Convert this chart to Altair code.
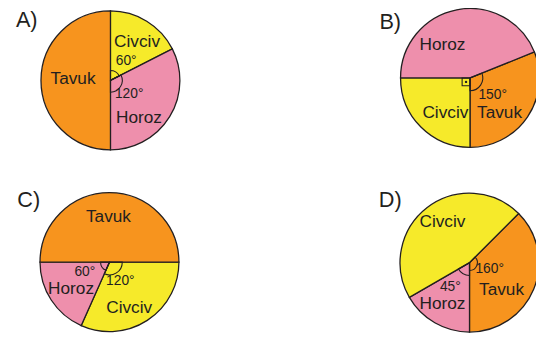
import math
import altair as alt
import pandas as pd

# ---------------- data ----------------
panels = ["A)", "B)", "C)", "D)"]
categories = ["Tavuk", "Civciv", "Horoz"]

# slices listed clockwise, starting at start_angle (degrees from 12 o'clock)
slice_order = {
    "A)": ["Civciv", "Horoz", "Tavuk"],
    "B)": ["Tavuk", "Civciv", "Horoz"],
    "C)": ["Civciv", "Horoz", "Tavuk"],
    "D)": ["Tavuk", "Horoz", "Civciv"],
}
# drawn sizes of the slices (degrees)
slice_degrees = {
    "A)": [63, 117, 180],
    "B)": [112, 90, 158],
    "C)": [114, 66, 180],
    "D)": [135, 60, 165],
}
start_angle = {"A)": 0, "B)": 68, "C)": 90, "D)": 45}

# angle labels written inside each pie, and the slice they belong to
angle_labels = {
    "A)": [("Civciv", "60°"), ("Horoz", "120°")],
    "B)": [("Tavuk", "150°")],
    "C)": [("Horoz", "60°"), ("Civciv", "120°")],
    "D)": [("Horoz", "45°"), ("Tavuk", "160°")],
}
right_angle_panel = "B)"

# ---------------- layout / style ----------------
OFF = 8  # page margin
INK = "#231F20"
FONT = "Liberation Sans"
colors = {"Tavuk": "#F7941E", "Civciv": "#F6EA2A", "Horoz": "#EE8FAC"}
R = 70.5
centers = {"A)": (112, 79), "B)": (477, 76.5), "C)": (111, 263.5), "D)": (476.5, 264)}
letter_pos = {"A)": (27, 25), "B)": (396, 27), "C)": (29, 207), "D)": (396, 208)}
name_pos = {
    "A)": {"Tavuk": (74, 83), "Civciv": (139, 45), "Horoz": (141, 122)},
    "B)": {"Horoz": (449, 48), "Civciv": (452, 117), "Tavuk": (507, 117)},
    "C)": {"Tavuk": (110, 223), "Horoz": (72, 296), "Civciv": (131, 315)},
    "D)": {"Civciv": (449, 228), "Tavuk": (509, 297), "Horoz": (449, 311)},
}
angle_pos = {
    "A)": [(128, 63), (131, 97)],
    "B)": [(500, 98)],
    "C)": [(86, 278), (122, 287)],
    "D)": [(457, 293), (497, 275)],
}
marker_radius = {
    "A)": [10, 12],
    "B)": [13],
    "C)": [9, 13],
    "D)": [13, 8],
}

color_scale = alt.Scale(domain=categories, range=[colors[c] for c in categories])


def slices_df(p):
    rows = []
    a = start_angle[p]
    for cat, deg in zip(slice_order[p], slice_degrees[p]):
        rows.append({"panel": p, "cat": cat,
                     "t0": math.radians(a), "t1": math.radians(a + deg)})
        a += deg
    return pd.DataFrame(rows)


def px(x):
    return alt.value(x - OFF)


layers = []
for p in panels:
    cx, cy = centers[p]
    df = slices_df(p)
    layers.append(
        alt.Chart(df).mark_arc(radius=R, stroke=INK, strokeWidth=1.3).encode(
            theta=alt.Theta("t0:Q", scale=None),
            theta2="t1:Q",
            color=alt.Color("cat:N", scale=color_scale, legend=None),
            x=px(cx), y=px(cy),
        )
    )
    # angle arc markers
    for (cat, lab), r in zip(angle_labels[p], marker_radius[p]):
        sub = df[df["cat"] == cat]
        layers.append(
            alt.Chart(sub).mark_arc(radius=r, filled=False, stroke=INK, strokeWidth=1.1).encode(
                theta=alt.Theta("t0:Q", scale=None), theta2="t1:Q",
                x=px(cx), y=px(cy),
            )
        )
    # letter
    lx, ly = letter_pos[p]
    layers.append(
        alt.Chart(pd.DataFrame({"t": [p]})).mark_text(
            font=FONT, fontSize=22, color=INK, baseline="alphabetic", align="center"
        ).encode(text="t:N", x=px(lx), y=px(ly))
    )
    # category names
    for cat in slice_order[p]:
        nx, ny = name_pos[p][cat]
        layers.append(
            alt.Chart(pd.DataFrame({"t": [cat]})).mark_text(
                font=FONT, fontSize=17.5, color=INK, baseline="alphabetic", align="center"
            ).encode(text="t:N", x=px(nx), y=px(ny))
        )
    # angle labels
    for (cat, lab), (ax, ay) in zip(angle_labels[p], angle_pos[p]):
        layers.append(
            alt.Chart(pd.DataFrame({"t": [lab]})).mark_text(
                font=FONT, fontSize=14, color=INK, baseline="alphabetic", align="center"
            ).encode(text="t:N", x=px(ax), y=px(ay))
        )

# right-angle marker in B
bx, by = centers[right_angle_panel]
layers.append(
    alt.Chart(pd.DataFrame({"k": [0]})).mark_square(
        size=64, filled=False, stroke=INK, strokeWidth=1.1, opacity=1
    ).encode(x=px(bx - 4), y=px(by + 4))
)
layers.append(
    alt.Chart(pd.DataFrame({"k": [0]})).mark_circle(size=6, color=INK, opacity=1).encode(
        x=px(bx - 4), y=px(by + 4)
    )
)

chart = alt.layer(*layers).properties(
    width=536, height=331, autosize="none", padding=0, background="white"
).configure_view(strokeWidth=0)

chart.save("out.html", embed_options={"renderer": "svg", "actions": False})
